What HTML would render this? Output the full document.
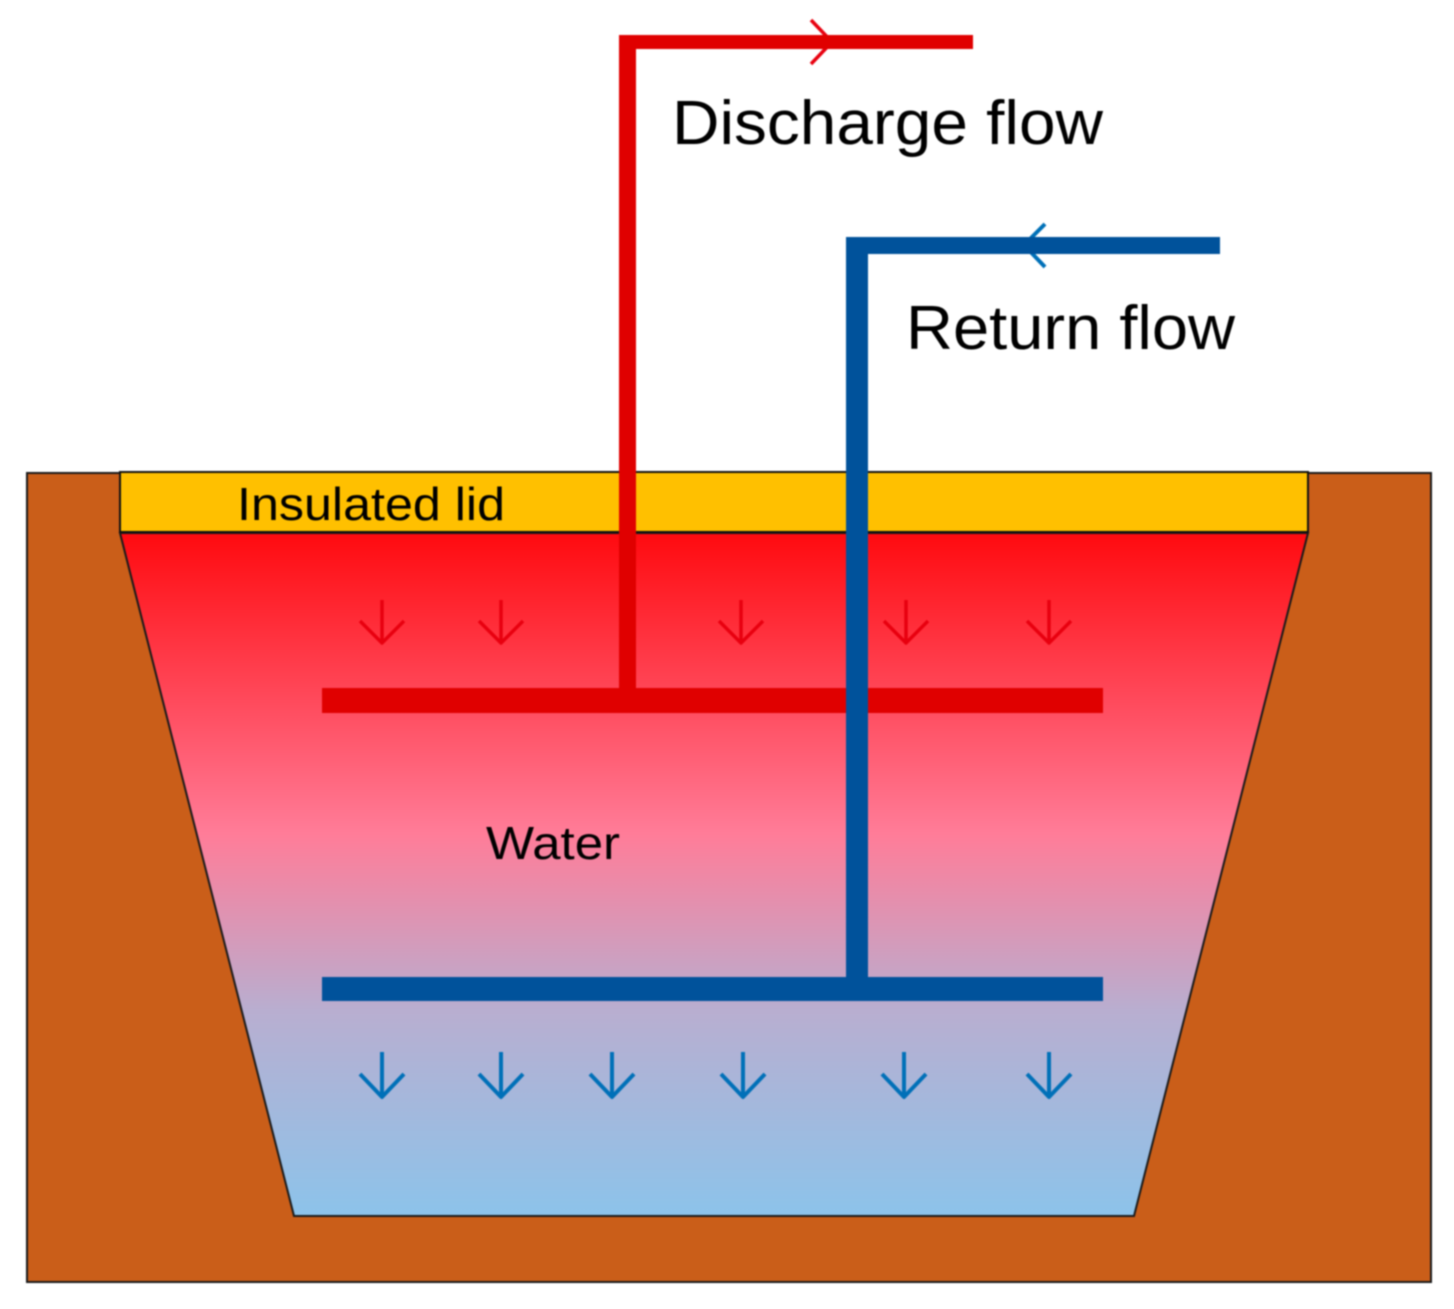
<!DOCTYPE html>
<html><head><meta charset="utf-8"><style>
html,body{margin:0;padding:0;background:#fff;width:1454px;height:1309px;overflow:hidden}
svg{display:block;filter:blur(.8px)}
text{font-family:"Liberation Sans",Arial,sans-serif;fill:#000}
</style></head><body>
<svg width="1454" height="1309" viewBox="0 0 1454 1309" xmlns="http://www.w3.org/2000/svg">
<defs><linearGradient id="w" x1="0" y1="533" x2="0" y2="1216" gradientUnits="userSpaceOnUse">
<stop offset="0" stop-color="#ff0a0f"/><stop offset=".44" stop-color="#ff7c98"/><stop offset=".7" stop-color="#b8aed0"/><stop offset="1" stop-color="#8cc3ea"/>
</linearGradient></defs>
<rect x="27" y="473" width="1404" height="809" fill="#ca5e19" stroke="#1a1a1a" stroke-width="2"/>
<polygon points="120,533 1308,533 1134,1216 294,1216" fill="url(#w)" stroke="#1a1a1a" stroke-width="2"/>
<rect x="120" y="472" width="1188" height="60" fill="#ffc000" stroke="#111" stroke-width="2"/>
<text x="237" y="520" font-size="46" textLength="268" lengthAdjust="spacingAndGlyphs">Insulated lid</text>
<text x="486" y="859" font-size="46" textLength="134" lengthAdjust="spacingAndGlyphs">Water</text>
<text x="672" y="144" font-size="62" textLength="431" lengthAdjust="spacingAndGlyphs">Discharge flow</text>
<text x="906" y="349" font-size="62" textLength="329" lengthAdjust="spacingAndGlyphs">Return flow</text>
<g fill="none" stroke="#e8000f" stroke-width="3.5" stroke-linejoin="round">
<path d="M382 600V642M360 621L382 643L404 621"/>
<path d="M501 600V642M479 621L501 643L523 621"/>
<path d="M741 600V642M719 621L741 643L763 621"/>
<path d="M906 600V642M884 621L906 643L928 621"/>
<path d="M1049 600V642M1027 621L1049 643L1071 621"/>
<path d="M811 20L832 42L811 64"/>
</g>
<g fill="none" stroke="#0070b8" stroke-width="4" stroke-linejoin="round">
<path d="M382 1052V1096M360 1074L382 1097L404 1074"/>
<path d="M501 1052V1096M479 1074L501 1097L523 1074"/>
<path d="M612 1052V1096M590 1074L612 1097L634 1074"/>
<path d="M743 1052V1096M721 1074L743 1097L765 1074"/>
<path d="M904 1052V1096M882 1074L904 1097L926 1074"/>
<path d="M1049 1052V1096M1027 1074L1049 1097L1071 1074"/>
<path d="M1045 224L1024 245L1045 267"/>
</g>
<rect x="619" y="35" width="354" height="14" fill="#e00000"/>
<rect x="619" y="35" width="17" height="655" fill="#e00000"/>
<rect x="322" y="688" width="781" height="25" fill="#e00000"/>
<rect x="846" y="237" width="22" height="745" fill="#00529b"/>
<rect x="864" y="237" width="356" height="17" fill="#00529b"/>
<rect x="322" y="977" width="781" height="24" fill="#00529b"/>
</svg>
</body></html>
